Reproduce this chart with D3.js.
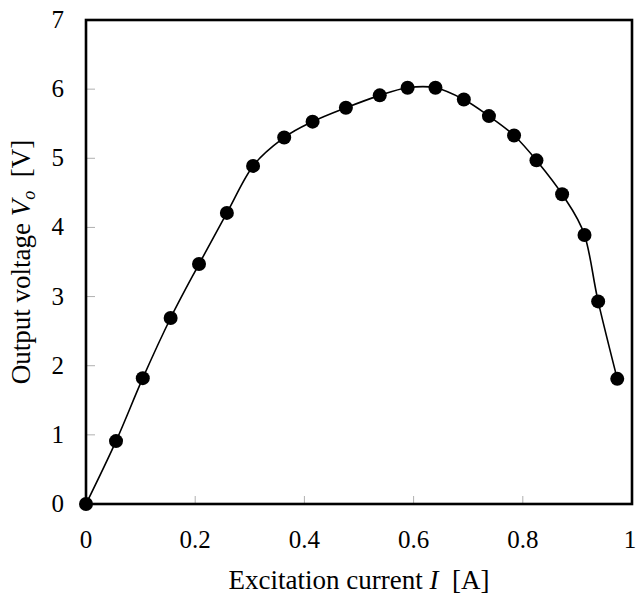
<!DOCTYPE html>
<html lang="en">
<head>
<meta charset="UTF-8">
<title>Output voltage vs excitation current</title>
<script src="https://d3js.org/d3.v7.min.js"></script>
<style>
    body { margin: 0; background: #fff; }
    svg text { font-family: "Liberation Serif", "Times New Roman", serif; fill: #000; }
</style>
</head>
<body>
<svg width="636" height="601"></svg>
<script>
    // data
    const current = [0, 0.055, 0.104, 0.155, 0.207, 0.258, 0.306, 0.363, 0.415, 0.476, 0.538, 0.589, 0.640,
                     0.692, 0.738, 0.784, 0.825, 0.872, 0.913, 0.938, 0.973];
    const voltage = [0, 0.91, 1.82, 2.69, 3.47, 4.21, 4.89, 5.30, 5.53, 5.73, 5.91, 6.02, 6.02,
                     5.85, 5.61, 5.33, 4.97, 4.48, 3.89, 2.93, 1.81];
    const xTicks = [0, 0.2, 0.4, 0.6, 0.8, 1];
    const yTicks = [0, 1, 2, 3, 4, 5, 6, 7];

    const margin = {top: 20, right: 4, bottom: 97, left: 86};
    const width = 636 - margin.left - margin.right;
    const height = 601 - margin.top - margin.bottom;

    const svg = d3.select("svg");
    const g = svg.append("g").attr("transform", `translate(${margin.left},${margin.top})`);

    const x = d3.scaleLinear().domain([0, 1]).range([0, width]);
    const y = d3.scaleLinear().domain([0, 7]).range([height, 0]);

    // small inner ticks (gray)
    g.append("g").selectAll("line").data(xTicks.slice(1, -1)).join("line")
        .attr("x1", d => x(d)).attr("x2", d => x(d))
        .attr("y1", height).attr("y2", height - 8)
        .attr("stroke", "#b0b0b0").attr("stroke-width", 1);
    g.append("g").selectAll("line").data(yTicks.slice(1, -1)).join("line")
        .attr("x1", 0).attr("x2", 9)
        .attr("y1", d => y(d)).attr("y2", d => y(d))
        .attr("stroke", "#b0b0b0").attr("stroke-width", 1);

    // tick labels
    g.append("g").selectAll("text").data(xTicks).join("text")
        .attr("x", d => d === 1 ? x(d) - 2 : x(d)).attr("y", height + 44)
        .attr("text-anchor", "middle").attr("font-size", 25)
        .text(d => d3.format("~g")(d));
    g.append("g").selectAll("text").data(yTicks).join("text")
        .attr("x", -22).attr("y", d => y(d) + 8)
        .attr("text-anchor", "end").attr("font-size", 25)
        .text(d => d);

    // data line + markers
    const pts = current.map((c, i) => [c, voltage[i]]);
    g.append("path")
        .datum(pts)
        .attr("fill", "none").attr("stroke", "#000").attr("stroke-width", 1.6)
        .attr("d", d3.line().x(d => x(d[0])).y(d => y(d[1])).curve(d3.curveCardinal.tension(0)));
    g.append("g").selectAll("circle").data(pts).join("circle")
        .attr("cx", d => x(d[0])).attr("cy", d => y(d[1]))
        .attr("r", 7).attr("fill", "#000");

    // frame
    g.append("rect")
        .attr("x", 0).attr("y", 0).attr("width", width).attr("height", height)
        .attr("fill", "none").attr("stroke", "#000").attr("stroke-width", 2.6);

    // axis titles
    const xt = svg.append("text")
        .attr("x", margin.left + width / 2).attr("y", 589)
        .attr("text-anchor", "middle").attr("font-size", 27);
    xt.append("tspan").text("Excitation current ");
    xt.append("tspan").attr("font-style", "italic").text("I");
    xt.append("tspan").text("\u00a0 [A]");

    const yt = svg.append("text")
        .attr("transform", `translate(30,${margin.top + height / 2}) rotate(-90)`)
        .attr("text-anchor", "middle").attr("font-size", 27);
    yt.append("tspan").text("Output voltage ");
    yt.append("tspan").attr("font-style", "italic").text("V");
    yt.append("tspan").attr("font-style", "italic").attr("font-size", 18).attr("dy", 5).text("o");
    yt.append("tspan").attr("dy", -5).text("\u00a0 [V]");
</script>
</body>
</html>
